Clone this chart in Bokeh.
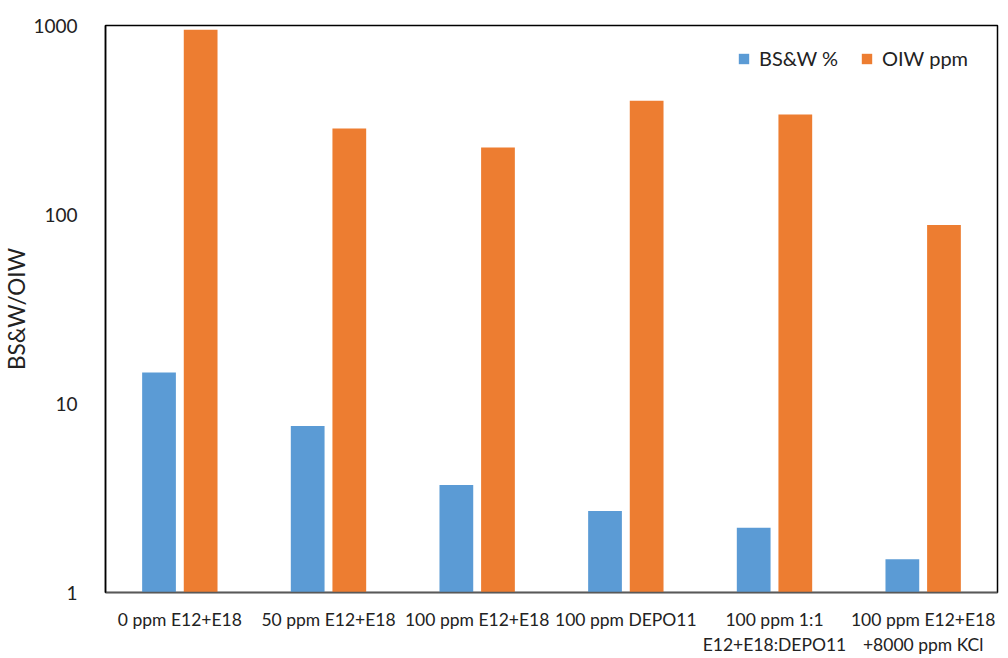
from bokeh.plotting import figure
from bokeh.models import ColumnDataSource, FactorRange, FixedTicker, CustomJSTickFormatter, Legend, LegendItem
from bokeh.transform import dodge
from bokeh.embed import file_html
from bokeh.resources import INLINE

categories = ["0 ppm E12+E18", "50 ppm E12+E18", "100 ppm E12+E18", "100 ppm DEPO11",
              "100 ppm 1:1\nE12+E18:DEPO11", "100 ppm E12+E18\n+8000 ppm KCl"]
bsw = [14.6, 7.6, 3.7, 2.7, 2.2, 1.5]
oiw = [950, 285, 226, 400, 338, 88]
y_ticks = [1, 10, 100, 1000]

FONT = "Lato"
src = ColumnDataSource(dict(cat=categories, bsw=bsw, oiw=oiw))

p = figure(x_range=FactorRange(*categories), y_axis_type="log", y_range=(1, 1000),
           width=1000, height=657, output_backend="svg", toolbar_location=None,
           min_border_left=98, min_border_right=3, min_border_top=25, min_border_bottom=58)
p.x_range.range_padding = 0.0

r1 = p.vbar(x=dodge("cat", -0.14, range=p.x_range), top="bsw", bottom=1, width=0.227,
            source=src, color="#5B9BD5", line_color=None)
r2 = p.vbar(x=dodge("cat", 0.14, range=p.x_range), top="oiw", bottom=1, width=0.227,
            source=src, color="#ED7D31", line_color=None)

p.xgrid.visible = False
p.ygrid.visible = False
p.outline_line_color = "black"
p.outline_line_width = 1.5

p.yaxis.ticker = FixedTicker(ticks=y_ticks)
p.yaxis.formatter = CustomJSTickFormatter(code="return String(Math.round(tick));")
p.yaxis.major_tick_line_color = None
p.yaxis.minor_tick_line_color = None
p.yaxis.axis_line_color = "black"
p.yaxis.axis_line_width = 1.5
p.yaxis.major_label_text_font = FONT
p.yaxis.major_label_text_font_size = "19px"
p.yaxis.major_label_text_color = "#222222"
p.yaxis.major_label_standoff = 22
p.yaxis.axis_label = "BS&W/OIW"
p.yaxis.axis_label_text_font = FONT
p.yaxis.axis_label_text_font_style = "normal"
p.yaxis.axis_label_text_font_size = "22.5px"
p.yaxis.axis_label_text_color = "#222222"
p.yaxis.axis_label_standoff = 0

p.xaxis.major_tick_line_color = None
p.xaxis.minor_tick_line_color = None
p.xaxis.axis_line_color = "#595959"
p.xaxis.axis_line_width = 1.5
p.xaxis.major_label_text_font = FONT
p.xaxis.major_label_text_font_size = "17.5px"
p.xaxis.major_label_text_color = "#222222"
p.xaxis.major_label_standoff = 10
p.xaxis.major_label_orientation = "horizontal"

legend = Legend(items=[LegendItem(label="BS&W %", renderers=[r1]),
                       LegendItem(label="OIW ppm", renderers=[r2])],
                orientation="horizontal", location=(632, 522))
legend.border_line_color = None
legend.background_fill_alpha = 0
legend.label_text_font = FONT
legend.label_text_font_size = "20px"
legend.label_text_color = "#222222"
legend.glyph_width = 13
legend.glyph_height = 13
legend.spacing = 22
legend.margin = 0
legend.padding = 0
legend.label_standoff = 9
p.add_layout(legend)

open("out.html", "w").write(file_html(p, INLINE))
